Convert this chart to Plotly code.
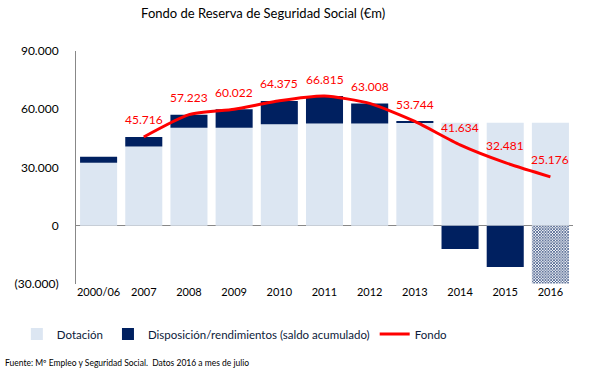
import plotly.graph_objects as go

categories = ["2000/06", "2007", "2008", "2009", "2010", "2011", "2012", "2013", "2014", "2015", "2016"]
dotacion = [32500, 40800, 50500, 50500, 52300, 52600, 52600, 53100, 53100, 53100, 53100]
disposicion = [3100, 4900, 6700, 9500, 12000, 14200, 10400, 600, -12000, -21300, -29800]
fondo_cats = categories[1:]
fondo = [45716, 57223, 60022, 64375, 66815, 63008, 53744, 41634, 32481, 25176]
fondo_labels = ["45.716", "57.223", "60.022", "64.375", "66.815", "63.008", "53.744", "41.634", "32.481", "25.176"]
ytick_vals = [-30000, 0, 30000, 60000, 90000]
ytick_text = ["(30.000)", "0", "30.000", "60.000", "90.000"]

LIGHT = "#DCE6F2"
DARK = "#002060"
RED = "#FF0000"
FONT = "Lato"

pattern_shapes = [""] * (len(categories) - 1) + ["x"]

fig = go.Figure()
fig.add_trace(go.Bar(x=categories, y=dotacion, name="Dotación",
                     marker=dict(color=LIGHT, line=dict(width=0))))
fig.add_trace(go.Bar(x=categories, y=disposicion, name="Disposición/rendimientos (saldo acumulado)",
                     marker=dict(color=DARK, line=dict(width=0),
                                 pattern=dict(shape=pattern_shapes, fgcolor=DARK, bgcolor="white",
                                              fgopacity=1, size=2, solidity=0.5, fillmode="overlay"))))
fig.add_trace(go.Scatter(x=fondo_cats, y=fondo, name="Fondo", mode="lines",
                         line=dict(color=RED, width=3, shape="spline", smoothing=0.6)))

for c, v, t in zip(fondo_cats, fondo, fondo_labels):
    fig.add_annotation(x=categories.index(c), y=v, text=t, showarrow=False, yshift=17,
                       font=dict(color=RED, size=12, family=FONT))

fig.add_annotation(xref="paper", yref="paper", x=-0.147, y=-0.339, xanchor="left", yanchor="middle",
                   text="Fuente: Mº Empleo y Seguridad Social.  Datos 2016 a mes de julio",
                   showarrow=False, font=dict(size=8.5, color="#000000", family=FONT))

fig.update_layout(
    width=605, height=378,
    margin=dict(l=76, r=32, t=51, b=94),
    paper_bgcolor="white", plot_bgcolor="white",
    barmode="relative", bargap=0.18,
    separators=",.",
    font=dict(family=FONT, size=12, color="#000000"),
    title=dict(text="Fondo de Reserva de Seguridad Social (€m)", x=0.435, xref="container",
               xanchor="center", y=1 - 13 / 378, yref="container", yanchor="middle",
               font=dict(size=13, family=FONT, color="#000000")),
    showlegend=True,
    legend=dict(orientation="h", x=-0.119, xanchor="left", y=-0.215, yanchor="middle",
                font=dict(size=11.5, family=FONT, color="#0b1a3a"), itemwidth=30,
                traceorder="normal"),
    xaxis=dict(type="category", categoryorder="array", categoryarray=categories,
               range=[-0.5, len(categories) - 0.5],
               showline=False, ticks="", showgrid=False, tickfont=dict(size=11, family=FONT)),
    yaxis=dict(range=[-30000, 90000], tickvals=ytick_vals, ticktext=ytick_text,
               showline=True, linecolor="#888888", linewidth=1, showgrid=False,
               zeroline=True, zerolinecolor="#888888", zerolinewidth=1,
               ticks="", ticklabelstandoff=14, tickfont=dict(size=12, family=FONT)),
)

fig.write_html("out.html", config={"displayModeBar": False},
               post_script="document.body.style.margin='0px';")
